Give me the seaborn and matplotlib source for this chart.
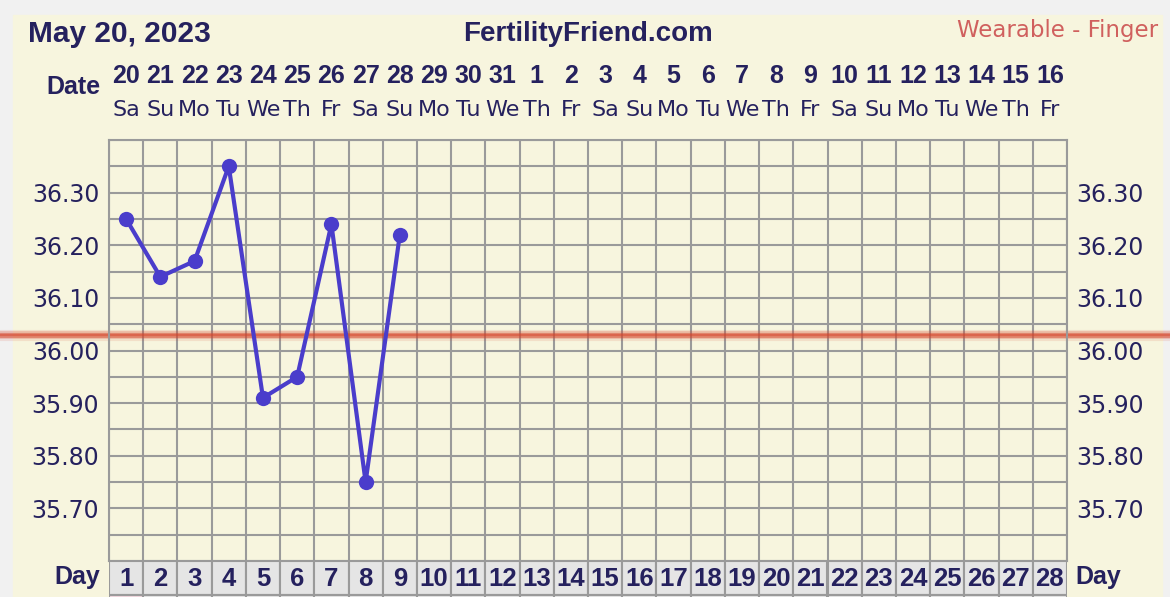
import numpy as np
import matplotlib.pyplot as plt
import matplotlib.transforms as mtransforms
from matplotlib.patches import Rectangle
import seaborn as sns

# chart data
days = list(range(1, 29))
temp_days = [1, 2, 3, 4, 5, 6, 7, 8, 9]
temps = [36.25, 36.14, 36.17, 36.35, 35.91, 35.95, 36.24, 35.75, 36.22]
date_nums = [str(d) for d in range(20, 32)] + [str(d) for d in range(1, 17)]
weekdays = ["Sa", "Su", "Mo", "Tu", "We", "Th", "Fr"] * 4
coverline = 36.03
ytick_vals = [35.70, 35.80, 35.90, 36.00, 36.10, 36.20, 36.30]
ymin, ymax = 35.60, 36.40

NAVY = "#25215e"
CREAM = "#f7f5de"
GRID = "#9a9a9a"
LINE = "#4a3dcb"
PLAIN = ["DejaVu Sans"]
BOLD = ["Liberation Sans", "DejaVu Sans"]
NARROW = ["Liberation Sans Narrow", "Liberation Sans", "DejaVu Sans"]

sns.set_style("white")
plt.rcParams["font.family"] = PLAIN

W, H = 1170, 597
fig = plt.figure(figsize=(W / 100, H / 100), dpi=100, facecolor="#f1f1f1")
fig.add_artist(Rectangle((13 / W, 0), (1162 - 13) / W, (H - 15) / H,
                         transform=fig.transFigure, color=CREAM, zorder=0))

ax = fig.add_axes([109 / W, 1 - 561 / H, 958 / W, 421 / H])
ax.set_facecolor(CREAM)

# coverline, fuzzy red band across the whole width
for lw, a in [(8, 0.12), (5.5, 0.25), (3.5, 0.45), (1.5, 0.45)]:
    ax.axhline(coverline, xmin=-109 / 958, xmax=(W - 109) / 958, color="#d6442a",
               lw=lw, alpha=a, clip_on=False, zorder=2)

sns.lineplot(x=temp_days, y=temps, ax=ax, color=LINE, linewidth=3, marker="o",
             markersize=11, markeredgewidth=0, zorder=3)

ax.set_xlim(0.5, 28.5)
ax.set_ylim(ymin, ymax)
ax.set_xticks(np.arange(0.5, 29, 1))
ax.set_xticklabels([])
ax.set_yticks(ytick_vals)
ax.set_yticklabels([f"{v:.2f}" for v in ytick_vals], family=PLAIN)
ax.set_yticks(np.arange(ymin, ymax + 0.001, 0.05), minor=True)
ax.grid(True, which="both", color=GRID, linewidth=1.5)
ax.set_axisbelow(True)
ax.tick_params(axis="both", which="both", length=0)
ax.tick_params(axis="y", labelright=True, labelsize=17, labelcolor=NAVY, pad=7)
ax.set_xlabel("")
ax.set_ylabel("")
for s in ax.spines.values():
    s.set_color(GRID)
    s.set_linewidth(1.5)

# header rows: dates and weekdays over each column
trans = mtransforms.blended_transform_factory(ax.transData, fig.transFigure)
for d, num, wd in zip(days, date_nums, weekdays):
    ax.text(d, 1 - 76 / H, num, transform=trans, ha="center", va="center",
            fontsize=18, fontweight="bold", color=NAVY, family=NARROW)
    ax.text(d, 1 - 110 / H, wd, transform=trans, ha="center", va="center",
            fontsize=16, color=NAVY, family=PLAIN)

fig.text(100 / W, 1 - 87 / H, "Date", ha="right", va="center", fontsize=18,
         fontweight="bold", color=NAVY, family=BOLD)
fig.text(28 / W, 1 - 34 / H, "May 20, 2023", ha="left", va="center", fontsize=21.5,
         fontweight="bold", color=NAVY, family=BOLD)
fig.text(588 / W, 1 - 34 / H, "FertilityFriend.com", ha="center", va="center",
         fontsize=20, fontweight="bold", color=NAVY, family=BOLD)
fig.text(1158 / W, 1 - 31 / H, "Wearable - Finger", ha="right", va="center",
         fontsize=16.5, color="#d0605e", family=PLAIN)

# day number row
dax = fig.add_axes([109 / W, 0, 958 / W, 36 / H])
dax.bar(days, [1] * len(days), bottom=0, width=1, color="#e5e5e5",
        edgecolor=GRID, linewidth=1.5)
dax.bar(days, [1] * len(days), bottom=-1, width=1,
        color=["#f2d8df"] + ["#e5e5e5"] * (len(days) - 1), edgecolor=GRID, linewidth=1.5)
for d in days:
    dax.text(d, 0.48, str(d), ha="center", va="center", fontsize=18.5,
             fontweight="bold", color=NAVY, family=BOLD)
dax.set_xlim(0.5, 28.5)
dax.set_ylim(-2 / 34, 1)
dax.axis("off")

fig.text(100 / W, 1 - 577 / H, "Day", ha="right", va="center", fontsize=18,
         fontweight="bold", color=NAVY, family=BOLD)
fig.text(1075 / W, 1 - 577 / H, "Day", ha="left", va="center", fontsize=18,
         fontweight="bold", color=NAVY, family=BOLD)

fig.savefig("out.png", dpi=100, facecolor=fig.get_facecolor())
